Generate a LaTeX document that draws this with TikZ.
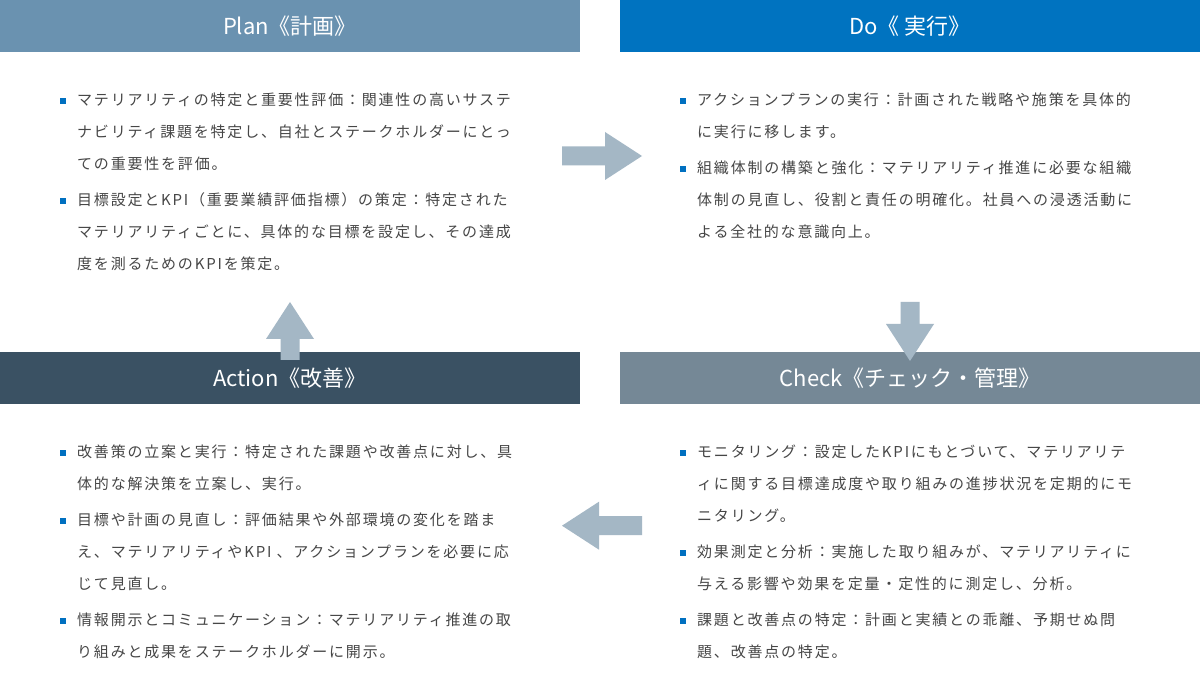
\documentclass[tikz,border=0pt]{standalone}
\usepackage{fontspec}
\newfontfamily\jp{Noto Sans CJK JP}
\newfontfamily\jpsp[LetterSpace=12]{Noto Sans CJK JP}
\definecolor{planblue}{RGB}{106,146,176}
\definecolor{doblue}{RGB}{0,115,192}
\definecolor{actnavy}{RGB}{58,81,99}
\definecolor{chkgray}{RGB}{117,136,150}
\definecolor{arrowgray}{RGB}{164,183,197}
\definecolor{bulletblue}{RGB}{0,112,192}
\definecolor{textgray}{RGB}{70,70,70}
\newcommand{\fl}{\rule{0pt}{13.5pt}}
\tikzset{
  head/.style={minimum width=580pt, minimum height=52pt, inner sep=0, text=white,
    font=\jp\fontsize{22}{22}\selectfont},
  body/.style={anchor=north west, inner sep=0, align=left, text=textgray,
    font=\jpsp\fontsize{15}{32}\selectfont},
  sq/.style={fill=bulletblue, minimum size=6pt, inner sep=0},
  pics/flowarrow/.style={code={
    \fill[arrowgray] (-#1,-9.5) -- (#1-37,-9.5) -- (#1-37,-24) -- (#1,0)
      -- (#1-37,24) -- (#1-37,9.5) -- (-#1,9.5) -- cycle;}}
}

\begin{document}
\begin{tikzpicture}[x=1pt,y=-1pt]
\useasboundingbox[fill=white] (0,0) rectangle (1200,700);

    \node[head, fill=planblue] (plan) at (290,26) {Plan《計画》};
    \node[head, fill=doblue] (do) at (910,26) {Do《 実行》};
    \node[head, fill=actnavy] (act) at (290,378) {Action《改善》};
    \node[head, fill=chkgray] (chk) at (910,378) {Check《チェック・管理》};

    % Plan
    \node[sq] (pb1) at (62.5,101) {};
    \node[body] (p1) at (77,92.2) {\fl マテリアリティの特定と重要性評価：関連性の高いサステ\\ナビリティ課題を特定し、自社とステークホルダーにとっ\\ての重要性を評価。};
    \node[sq] (pb2) at (62.5,201) {};
    \node[body] (p2) at (77,192.2) {\fl 目標設定とKPI（重要業績評価指標）の策定：特定された\\マテリアリティごとに、具体的な目標を設定し、その達成\\度を測るためのKPIを策定。};

    % Do
    \node[sq] (db1) at (682.5,101) {};
    \node[body] (d1) at (697,92.2) {\fl アクションプランの実行：計画された戦略や施策を具体的\\に実行に移します。};
    \node[sq] (db2) at (682.5,169) {};
    \node[body] (d2) at (697,160.2) {\fl 組織体制の構築と強化：マテリアリティ推進に必要な組織\\体制の見直し、役割と責任の明確化。社員への浸透活動に\\よる全社的な意識向上。};

    % Action
    \node[sq] (ab1) at (62.5,453) {};
    \node[body] (a1) at (77,444.2) {\fl 改善策の立案と実行：特定された課題や改善点に対し、具\\体的な解決策を立案し、実行。};
    \node[sq] (ab2) at (62.5,521) {};
    \node[body] (a2) at (77,512.2) {\fl 目標や計画の見直し：評価結果や外部環境の変化を踏ま\\え、マテリアリティやKPI 、アクションプランを必要に応\\じて見直し。};
    \node[sq] (ab3) at (62.5,621) {};
    \node[body] (a3) at (77,612.2) {\fl 情報開示とコミュニケーション：マテリアリティ推進の取\\り組みと成果をステークホルダーに開示。};

    % Check
    \node[sq] (cb1) at (682.5,453) {};
    \node[body] (c1) at (697,444.2) {\fl モニタリング：設定したKPIにもとづいて、マテリアリテ\\ィに関する目標達成度や取り組みの進捗状況を定期的にモ\\ニタリング。};
    \node[sq] (cb2) at (682.5,553) {};
    \node[body] (c2) at (697,544.2) {\fl 効果測定と分析：実施した取り組みが、マテリアリティに\\与える影響や効果を定量・定性的に測定し、分析。};
    \node[sq] (cb3) at (682.5,621) {};
    \node[body] (c3) at (697,612.2) {\fl 課題と改善点の特定：計画と実績との乖離、予期せぬ問\\題、改善点の特定。};

    % cycle arrows
    \pic at (602,156) {flowarrow=40};
    \pic[rotate=-90] at (910,331.5) {flowarrow=29.5};
    \pic[rotate=180] at (602,525.7) {flowarrow=40};
    \pic[rotate=90] at (290,331) {flowarrow=29};

\end{tikzpicture}
\end{document}
